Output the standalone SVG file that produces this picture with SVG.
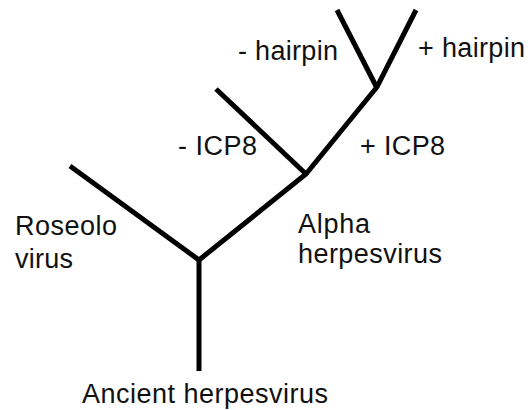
<svg xmlns="http://www.w3.org/2000/svg" width="528" height="410" viewBox="0 0 528 410">
<style>
.br{fill:none;stroke:#000;stroke-width:5;stroke-linecap:butt;stroke-linejoin:miter}
.lbl{font-family:"Liberation Sans",Arial,sans-serif;font-size:27px;fill:#111}
</style>
<rect width="528" height="410" fill="#fff"/>
<g id="connectors">
<path class="br" d="M70,166 L199,260 L306,174 L377,87 L416,10"/>
<path class="br" d="M199,371 L199,258"/>
<path class="br" d="M216,89 L306,174"/>
<path class="br" d="M337,10 L377,88"/>
</g>
<g id="ancient"><text class="lbl" x="82" y="403" textLength="246">Ancient herpesvirus</text></g>
<g id="roseolo"><text class="lbl" x="15" y="235" textLength="102">Roseolo</text><text class="lbl" x="15" y="268" textLength="58">virus</text></g>
<g id="alpha"><text class="lbl" x="298" y="233" textLength="72">Alpha</text><text class="lbl" x="298" y="263" textLength="144">herpesvirus</text></g>
<g id="minusICP8"><text class="lbl" x="178" y="155" textLength="79">- ICP8</text></g>
<g id="plusICP8"><text class="lbl" x="360" y="155" textLength="85">+ ICP8</text></g>
<g id="minusHairpin"><text class="lbl" x="238" y="60" textLength="100">- hairpin</text></g>
<g id="plusHairpin"><text class="lbl" x="418" y="57" textLength="107">+ hairpin</text></g>
</svg>
